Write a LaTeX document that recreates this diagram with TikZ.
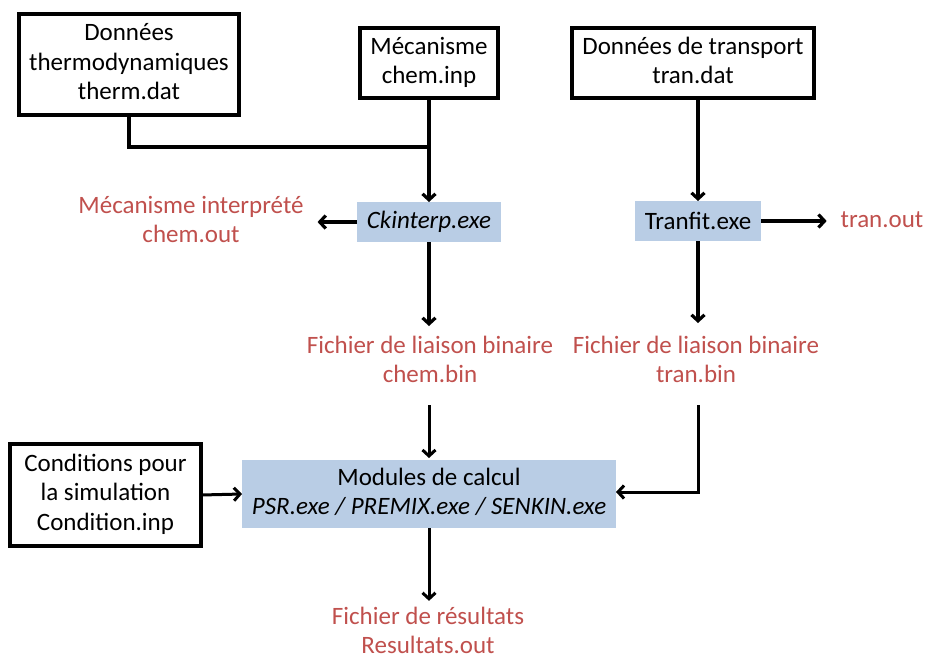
\documentclass[tikz,border=0pt]{standalone}
\usepackage{fontspec}
\setmainfont{Carlito}
\usetikzlibrary{arrows.meta}
\definecolor{outred}{HTML}{C0504D}
\definecolor{exeblue}{HTML}{B9CDE5}
\tikzset{
  every node/.style={font=\fontsize{25}{29.5}\selectfont, align=center, inner sep=0pt, outer sep=0pt},
  inbox/.style={draw=black, line width=3.2pt, minimum width=#1},
  exebox/.style={fill=exeblue, minimum height=40pt, minimum width=#1},
  outtxt/.style={text=outred},
  conn/.style={line width=3.2pt, -{Straight Barb[length=6pt,width=13pt]}},
  connthin/.style={line width=3pt, -{Straight Barb[length=6pt,width=13pt]}},
  plain/.style={line width=3.2pt}
}
\begin{document}
\begin{tikzpicture}[x=1pt,y=-1pt]
\useasboundingbox (0,0) rectangle (926,657);
% input boxes
\node[inbox=220pt, minimum height=101pt] (therm) at (129,64.5)
  {\strut Données\\\strut thermodynamiques\\\strut therm.dat};
\node[inbox=138pt, minimum height=70pt] (chemin) at (429,63)
  {\strut Mécanisme\\\strut chem.inp};
\node[inbox=242pt, minimum height=70pt] (trandat) at (693,63)
  {\strut Données de transport\\\strut tran.dat};
\node[inbox=191pt, minimum height=102pt] (cond) at (105.5,495)
  {\strut Conditions pour\\\strut la simulation\\\strut Condition.inp};
% executables
\node[exebox=144pt] (ckinterp) at (429,222) {\itshape Ckinterp.exe};
\node[exebox=126pt] (tranfit) at (698,221) {Tranfit.exe};
\node[fill=exeblue, minimum width=374pt, minimum height=68pt] (modules) at (429,494)
  {\strut Modules de calcul\\\strut\itshape PSR.exe / PREMIX.exe / SENKIN.exe};
% outputs
\node[outtxt] (chemout) at (191,222) {\strut Mécanisme interprété\\\strut chem.out};
\node[outtxt] (tranout) at (882,222) {\strut tran.out};
\node[outtxt] (chembin) at (430,362) {\strut Fichier de liaison binaire\\\strut chem.bin};
\node[outtxt] (tranbin) at (696,362) {\strut Fichier de liaison binaire\\\strut tran.bin};
\node[outtxt] (results) at (428,629) {\strut Fichier de résultats\\Resultats.out};
% connectors
\coordinate (join) at (429,147);
\draw[plain] (therm.south) |- (join);
\draw[conn] (chemin.south) -- (ckinterp.north);
\draw[conn] (trandat.south -| tranfit.north) -- (tranfit.north);
\draw[conn, shorten >=14pt] (ckinterp.west) -- (chemout.east |- ckinterp.west);
\draw[conn, shorten >=14pt] (tranfit.east) -- (tranout.west |- tranfit.east);
\draw[conn, shorten >=6.5pt] (ckinterp.south) -- (ckinterp.south |- chembin.north);
\draw[conn, shorten >=9.5pt] (tranfit.south) -- (tranfit.south |- tranbin.north);
\draw[connthin, shorten <=13.5pt, shorten >=2pt] (ckinterp.south |- chembin.south) -- (modules.north);
\draw[connthin, shorten <=13.5pt] (tranfit.south |- tranbin.south) |- ([yshift=2pt]modules.east);
\draw[connthin] (cond.east) -- (modules.west);
\draw[connthin, shorten >=3pt] (modules.south) -- (modules.south |- results.north);
\end{tikzpicture}
\end{document}
